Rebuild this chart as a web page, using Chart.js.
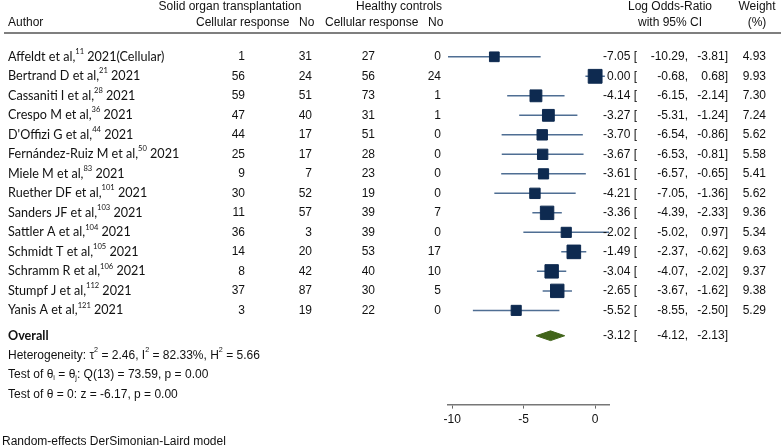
<!DOCTYPE html>
<html>
<head>
<meta charset="utf-8">
<script src="https://cdn.jsdelivr.net/npm/chart.js@4"></script>
<style>
  body { margin: 0; background: #fff; }
  #wrap { width: 782px; height: 448px; }
</style>
</head>
<body>
<div id="wrap"><canvas id="forest" width="782" height="448"></canvas></div>
<script>
// study data
var authors = ['Affeldt et al,', 'Bertrand D et al,', 'Cassaniti I et al,', 'Crespo M et al,',
  "D'Offizi G et al,", 'Fernández-Ruiz M et al,', 'Miele M et al,', 'Ruether DF et al,',
  'Sanders JF et al,', 'Sattler A et al,', 'Schmidt T et al,', 'Schramm R et al,',
  'Stumpf J et al,', 'Yanis A et al,'];
var refs = ['11', '21', '28', '36', '44', '50', '83', '101', '103', '104', '105', '106', '112', '121'];
var years = ['2021(Cellular)', '2021', '2021', '2021', '2021', '2021', '2021', '2021', '2021', '2021', '2021', '2021', '2021', '2021'];
var sotCell = [1, 56, 59, 47, 44, 25, 9, 30, 11, 36, 14, 8, 37, 3];
var sotNo = [31, 24, 51, 40, 17, 17, 7, 52, 57, 3, 20, 42, 87, 19];
var hcCell = [27, 56, 73, 31, 51, 28, 23, 19, 39, 39, 53, 40, 30, 22];
var hcNo = [0, 24, 1, 1, 0, 0, 0, 0, 7, 0, 17, 10, 5, 0];
var logOR = [-7.05, 0.00, -4.14, -3.27, -3.70, -3.67, -3.61, -4.21, -3.36, -2.02, -1.49, -3.04, -2.65, -5.52];
var ciLow = [-10.29, -0.68, -6.15, -5.31, -6.54, -6.53, -6.57, -7.05, -4.39, -5.02, -2.37, -4.07, -3.67, -8.55];
var ciHigh = [-3.81, 0.68, -2.14, -1.24, -0.86, -0.81, -0.65, -1.36, -2.33, 0.97, -0.62, -2.02, -1.62, -2.50];
var weights = [4.93, 9.93, 7.30, 7.24, 5.62, 5.58, 5.41, 5.62, 9.36, 5.34, 9.63, 9.37, 9.38, 5.29];
var overall = [-3.12, -4.12, -2.13];
var xTicks = [-10, -5, 0];

var NAVY = '#0e2a50';
var LINE = '#4f6e93';
var GREEN = '#41641a';
var TXT = '#111';
var overallRow = 14.3;

var datasets = [];
datasets.push({
  label: 'studies',
  data: logOR.map(function (v, i) { return { x: v, y: i }; }),
  pointStyle: 'rect',
  pointRadius: weights.map(function (w) { return 3.1 * Math.sqrt(w); }),
  backgroundColor: NAVY,
  borderColor: NAVY,
  borderWidth: 1,
  order: 0
});
logOR.forEach(function (v, i) {
  datasets.push({
    label: 'ci' + i,
    data: [{ x: ciLow[i], y: i }, { x: ciHigh[i], y: i }],
    showLine: true,
    borderColor: LINE,
    borderWidth: 1.5,
    pointRadius: 0,
    order: 1
  });
});
datasets.push({
  label: 'overall',
  data: [
    { x: overall[1], y: overallRow },
    { x: overall[0], y: overallRow - 0.25 },
    { x: overall[2], y: overallRow },
    { x: overall[0], y: overallRow + 0.25 },
    { x: overall[1], y: overallRow }
  ],
  showLine: true,
  fill: 'shape',
  backgroundColor: GREEN,
  borderColor: GREEN,
  borderWidth: 1,
  pointRadius: 0,
  order: 0
});

var ARIAL = '"Liberation Sans", Arial, sans-serif';
var CAL = 'Lato, "Open Sans", sans-serif';

function rich(ctx, x, y, parts, size, family) {
  parts.forEach(function (p) {
    var fs = p.s ? size * 0.6 : size;
    var dy = p.s === 'sup' ? -size * 0.42 : (p.s === 'sub' ? size * 0.25 : 0);
    ctx.font = (p.b ? 'bold ' : '') + fs + 'px ' + family;
    ctx.fillText(p.t, x, y + dy);
    x += ctx.measureText(p.t).width;
  });
}

var tablePlugin = {
  id: 'table',
  afterDraw: function (chart) {
    var ctx = chart.ctx;
    var ys = chart.scales.y;
    ctx.save();
    ctx.fillStyle = TXT;
    ctx.textBaseline = 'middle';

    // header
    ctx.font = '12px ' + ARIAL;
    ctx.textAlign = 'center';
    ctx.fillText('Solid organ transplantation', 230, 7);
    ctx.fillText('Healthy controls', 399, 7);
    ctx.fillText('Log Odds-Ratio', 670, 7);
    ctx.fillText('with 95% CI', 670, 23);
    ctx.fillText('Weight', 757, 7);
    ctx.fillText('(%)', 757, 23);
    ctx.textAlign = 'left';
    ctx.fillText('Author', 8, 23);
    ctx.fillText('Cellular response', 196, 23);
    ctx.fillText('No', 299, 23);
    ctx.fillText('Cellular response', 325, 23);
    ctx.fillText('No', 428, 23);

    ctx.strokeStyle = '#555';
    ctx.lineWidth = 1.5;
    ctx.beginPath();
    ctx.moveTo(4, 33);
    ctx.lineTo(781, 33);
    ctx.stroke();

    // study rows
    authors.forEach(function (a, i) {
      var y = ys.getPixelForValue(i);
      ctx.textAlign = 'left';
      rich(ctx, 8, y, [{ t: a }, { t: refs[i], s: 'sup' }, { t: ' ' + years[i] }], 12.6, CAL);
      ctx.font = '12px ' + ARIAL;
      ctx.textAlign = 'right';
      ctx.fillText(String(sotCell[i]), 245, y);
      ctx.fillText(String(sotNo[i]), 312, y);
      ctx.fillText(String(hcCell[i]), 375, y);
      ctx.fillText(String(hcNo[i]), 441, y);
      ctx.fillText(logOR[i].toFixed(2) + ' [', 637, y);
      ctx.fillText(ciLow[i].toFixed(2) + ',', 688, y);
      ctx.fillText(ciHigh[i].toFixed(2) + ']', 728, y);
      ctx.fillText(weights[i].toFixed(2), 766, y);
    });

    // overall
    var yo = ys.getPixelForValue(overallRow);
    ctx.textAlign = 'left';
    ctx.font = 'bold 12.6px ' + CAL;
    ctx.fillText('Overall', 8, yo);
    ctx.font = '12px ' + ARIAL;
    ctx.textAlign = 'right';
    ctx.fillText(overall[0].toFixed(2) + ' [', 637, yo);
    ctx.fillText(overall[1].toFixed(2) + ',', 688, yo);
    ctx.fillText(overall[2].toFixed(2) + ']', 728, yo);

    ctx.textAlign = 'left';
    rich(ctx, 8, ys.getPixelForValue(overallRow + 1),
      [{ t: 'Heterogeneity: τ' }, { t: '2', s: 'sup' }, { t: ' = 2.46, I' }, { t: '2', s: 'sup' },
       { t: ' = 82.33%, H' }, { t: '2', s: 'sup' }, { t: ' = 5.66' }], 12, ARIAL);
    rich(ctx, 8, ys.getPixelForValue(overallRow + 2),
      [{ t: 'Test of θ' }, { t: 'i', s: 'sub' }, { t: ' = θ' }, { t: 'j', s: 'sub' },
       { t: ': Q(13) = 73.59, p = 0.00' }], 12, ARIAL);
    rich(ctx, 8, ys.getPixelForValue(overallRow + 3),
      [{ t: 'Test of θ = 0: z = -6.17, p = 0.00' }], 12, ARIAL);
    ctx.font = '12px ' + ARIAL;
    ctx.fillText('Random-effects DerSimonian-Laird model', 2, 442);
    ctx.restore();
  }
};

var chart = new Chart(document.getElementById('forest'), {
  type: 'scatter',
  data: { datasets: datasets },
  options: {
    responsive: false,
    animation: false,
    layout: { padding: { left: 448, right: 173, top: 0, bottom: 17 } },
    plugins: { legend: { display: false }, tooltip: { enabled: false } },
    scales: {
      x: {
        type: 'linear',
        min: -10.29,
        max: 0.97,
        afterBuildTicks: function (scale) {
          scale.ticks = xTicks.map(function (v) { return { value: v }; });
        },
        grid: { display: true, drawOnChartArea: false, tickLength: 4, color: '#666' },
        border: { display: true, color: '#777', width: 1.5 },
        ticks: { color: TXT, font: { size: 12, family: ARIAL }, padding: 4, maxRotation: 0 }
      },
      y: {
        type: 'linear',
        display: false,
        reverse: true,
        min: -2.36,
        max: 17.83
      }
    }
  },
  plugins: [tablePlugin]
});
</script>
</body>
</html>
